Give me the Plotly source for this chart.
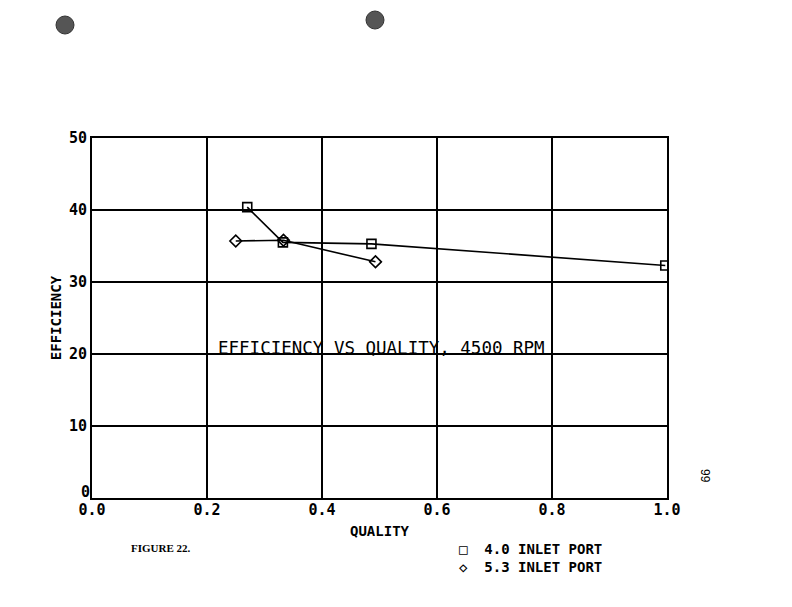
import plotly.graph_objects as go

# Data
quality_40 = [0.270, 0.332, 0.486, 0.997]
eff_40 = [40.4, 35.5, 35.3, 32.3]
quality_53 = [0.250, 0.333, 0.493]
eff_53 = [35.7, 35.8, 32.8]

x_ticks = [0.0, 0.2, 0.4, 0.6, 0.8, 1.0]
x_tick_labels = ["0.0", "0.2", "0.4", "0.6", "0.8", "1.0"]
y_ticks = [0, 10, 20, 30, 40, 50]
y_tick_labels = ["0", "10", "20", "30", "40", "50"]

series_names = ["4.0 INLET PORT", "5.3 INLET PORT"]

FONT = "DejaVu Sans Mono"

fig = go.Figure()
fig.add_trace(go.Scatter(
    x=quality_40, y=eff_40, mode="lines+markers", name=series_names[0],
    line=dict(color="black", width=1.6),
    marker=dict(symbol="square-open", size=9, color="black", line=dict(width=1.6)),
    showlegend=False,
))
fig.add_trace(go.Scatter(
    x=quality_53, y=eff_53, mode="lines+markers", name=series_names[1],
    line=dict(color="black", width=1.6),
    marker=dict(symbol="diamond-open", size=9, color="black", line=dict(width=1.6)),
    showlegend=False,
))

fig.update_xaxes(
    range=[0, 1.0], tickvals=x_ticks, ticktext=x_tick_labels,
    showgrid=True, gridcolor="black", gridwidth=2,
    showline=True, linecolor="black", linewidth=2, mirror=True,
    zeroline=False, ticks="", ticklabelstandoff=-3,
    tickfont=dict(family=FONT, size=15, color="black", weight="bold"),
    title=dict(text="<b>QUALITY</b>", font=dict(family=FONT, size=14, color="black"), standoff=8),
)
# the "0" label of the y axis sits just above the axis line in the reference,
# so it is drawn as an annotation rather than a centred tick label
y_tick_text_shown = ["" if t == 0 else lab for t, lab in zip(y_ticks, y_tick_labels)]
fig.update_yaxes(
    range=[0, 50], tickvals=y_ticks, ticktext=y_tick_text_shown,
    showgrid=True, gridcolor="black", gridwidth=2,
    showline=True, linecolor="black", linewidth=2, mirror=True,
    zeroline=False, ticks="",
    tickfont=dict(family=FONT, size=15, color="black", weight="bold"),
    title=dict(text="<b>EFFICIENCY</b>", font=dict(family=FONT, size=14, color="black"), standoff=4),
)
fig.add_annotation(
    text="<b>" + y_tick_labels[0] + "</b>", xref="paper", yref="y", x=0, y=y_ticks[0],
    xanchor="right", yanchor="bottom", xshift=0, yshift=-5, showarrow=False,
    font=dict(family=FONT, size=15, color="black"),
)

fig.add_annotation(
    text="EFFICIENCY VS QUALITY, 4500 RPM", xref="paper", yref="y",
    x=0.503, y=20, xanchor="center", yanchor="bottom", yshift=-6, showarrow=False,
    font=dict(family=FONT, size=17.5, color="black"),
)
fig.add_annotation(
    text="<b>\u25a1  " + series_names[0] + "</b><br><b>\u25c7  " + series_names[1] + "</b>",
    xref="paper", yref="paper", x=0.635, y=-0.115, xanchor="left", yanchor="top",
    showarrow=False, align="left",
    font=dict(family=FONT, size=14, color="black"),
)
fig.add_annotation(
    text="<b>FIGURE 22.</b>", xref="paper", yref="paper", x=0.065, y=-0.118,
    xanchor="left", yanchor="top", showarrow=False,
    font=dict(family="Liberation Serif", size=11, color="black"),
)
fig.add_annotation(
    text="99", xref="paper", yref="paper", x=1.083, y=0.037, textangle=90,
    showarrow=False, font=dict(family="Liberation Sans", size=12, color="black"),
)

# punch holes at the top of the page
for cx, cy in [(65, 25), (375, 20)]:
    fig.add_shape(type="circle", xref="paper", yref="paper",
                  x0=(cx - 9 - 92) / 575, x1=(cx + 9 - 92) / 575,
                  y0=(498 - cy - 9) / 360, y1=(498 - cy + 9) / 360,
                  fillcolor="#555555", line=dict(color="#333333", width=1))

fig.update_layout(
    width=792, height=607,
    margin=dict(l=84, r=133, t=130, b=117),
    paper_bgcolor="white", plot_bgcolor="white",
    font=dict(family=FONT, color="black"),
)

fig.write_html("out.html")
